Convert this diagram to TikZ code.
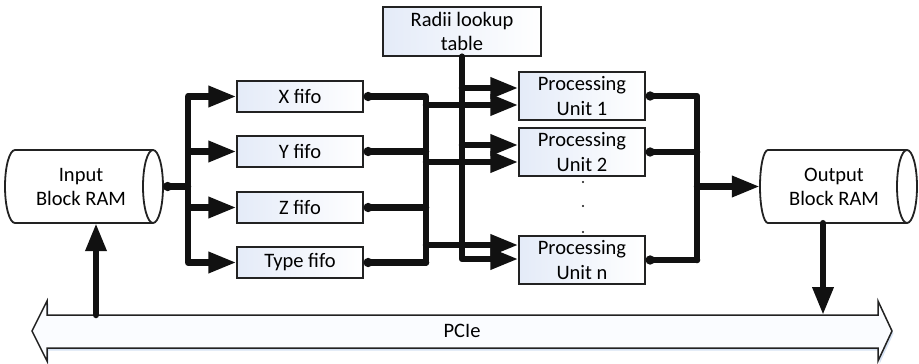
\documentclass[tikz,border=0pt]{standalone}
\usepackage{fontspec}
\setmainfont{Carlito}
\usetikzlibrary{arrows.meta,calc}
\definecolor{ink}{HTML}{111111}
\definecolor{edge}{HTML}{222222}
\definecolor{tint}{HTML}{E4EBF8}
\definecolor{busfill}{HTML}{FAFCFF}
\definecolor{busshade}{HTML}{D6E2F3}
\tikzset{
  conn/.style={draw=ink, line width=6.5pt, line join=round, line cap=round},
  tip/.style={arrows={-Triangle[length=28pt,width=20pt]}},
  dotstart/.style={arrows={Circle[length=9pt]-}},
  blockbox/.style={draw=edge, line width=1.3pt, left color=tint, right color=white,
    inner sep=0pt, align=center},
  fifobox/.style={blockbox, minimum width=126pt, minimum height=31pt},
  pubox/.style={blockbox, minimum width=126pt, minimum height=48pt},
  ramline/.style={draw=edge, line width=1.8pt},
  label/.style={align=center, inner sep=0pt}
}
\begin{document}
\begin{tikzpicture}[x=1pt, y=-1pt, font=\fontsize{20.5}{24.5}\selectfont]
\useasboundingbox (0,0) rectangle (919,364);

% ---- input block RAM (horizontal cylinder) ----
\fill[white] (153,150) -- (15,150) arc[start angle=-90, end angle=-270, x radius=10, y radius=36.5] -- (153,223) -- cycle;
\draw[ramline] (153,150) -- (15,150) arc[start angle=-90, end angle=-270, x radius=10, y radius=36.5] -- (153,223);
\filldraw[ramline, fill=white] (153,186.5) ellipse [x radius=10, y radius=36.5];
\node[minimum width=158pt, minimum height=73pt, inner sep=0pt] (inram) at (84,186.5) {};
\node[label] (inramtxt) at (81,187) {Input\\Block RAM};

% ---- output block RAM ----
\fill[white] (907,150) -- (768,150) arc[start angle=-90, end angle=-270, x radius=8, y radius=36.5] -- (907,223) -- cycle;
\draw[ramline] (907,150) -- (768,150) arc[start angle=-90, end angle=-270, x radius=8, y radius=36.5] -- (907,223);
\filldraw[ramline, fill=white] (907,186.5) ellipse [x radius=10, y radius=36.5];
\node[minimum width=157pt, minimum height=73pt, inner sep=0pt] (outram) at (838.5,186.5) {};
\node[label] (outramtxt) at (834,187) {Output\\Block RAM};

% ---- PCIe bus (double block arrow with a soft shadow) ----
\fill[busshade] (33.5,333.5) -- (48.5,303.5) -- (48.5,317.5) -- (879.5,317.5) -- (879.5,303.5)
  -- (893.5,333.5) -- (879.5,364) -- (879.5,350.5) -- (48.5,350.5) -- (48.5,364) -- cycle;
\filldraw[draw=edge, line width=1.5pt, fill=busfill, line join=miter]
  (32,331) -- (47,301) -- (47,315) -- (878,315) -- (878,301) -- (892,331)
  -- (878,361) -- (878,348) -- (47,348) -- (47,361) -- cycle;
\node[label] (pcie) at (462,331) {PCIe};

% ---- fifos ----
\node[fifobox] (xf) at (300,96.5)  {X fifo};
\node[fifobox] (yf) at (300,151.5) {Y fifo};
\node[fifobox] (zf) at (300,207.5) {Z fifo};
\node[fifobox] (tf) at (300,262.5) {Type fifo};

% ---- radii table and processing units ----
\node[blockbox, minimum width=158pt, minimum height=49pt] (radii) at (462,31.5) {Radii lookup\\table};
\node[pubox] (pu1) at (582,96)  {Processing\\Unit 1};
\node[pubox] (pu2) at (582,152) {Processing\\Unit 2};
\node[pubox] (pun) at (582,260) {Processing\\Unit n};
\foreach \yy in {182,206,232} \fill[ink] (583,\yy) circle (1.2pt);

% ---- junction columns ----
\coordinate (jin) at (188,186.5);
\coordinate (fb) at (426,0);
\coordinate (ob) at (697,0);
\coordinate (p1a) at ($(pu1.west)+(0,-8)$);
\coordinate (p1b) at ($(pu1.west)+(0,9)$);
\coordinate (p2a) at ($(pu2.west)+(0,-7)$);
\coordinate (p2b) at ($(pu2.west)+(0,10)$);
\coordinate (pna) at ($(pun.west)+(0,-15)$);
\coordinate (pnb) at ($(pun.west)+(0,-1)$);
\coordinate (intap) at (96,315);
\coordinate (outtap) at (823,315);

% input RAM to fifos
\draw[conn, dotstart] (inram.east) -- (jin);
\draw[conn, tip] (jin) |- (xf.west);
\draw[conn, tip] (jin) |- (yf.west);
\draw[conn, tip] (jin) |- (zf.west);
\draw[conn, tip] (jin) |- (tf.west);

% fifos to processing units
\draw[conn, dotstart] (xf.east) -| (fb |- tf.east);
\draw[conn, dotstart] (yf.east) -- (fb |- yf.east);
\draw[conn, dotstart] (zf.east) -- (fb |- zf.east);
\draw[conn, dotstart] (tf.east) -- (fb |- tf.east);
\draw[conn, tip] (fb |- p1b) -- (p1b);
\draw[conn, tip] (fb |- p2b) -- (p2b);
\draw[conn, tip] (fb |- pna) -- (pna);

% radii table to processing units
\draw[conn, tip] (radii.south) |- (pnb);
\draw[conn, tip] (radii.south |- p1a) -- (p1a);
\draw[conn, tip] (radii.south |- p2a) -- (p2a);

% processing units to output RAM
\draw[conn, dotstart] (pu1.east) -| (ob |- pun.east);
\draw[conn, dotstart] (pu2.east) -- (ob |- pu2.east);
\draw[conn, dotstart] (pun.east) -- (ob |- pun.east);
\draw[conn, tip] (ob |- outram.west) -- (outram.west);

% PCIe links
\draw[conn, tip] (intap) -- (intap |- inram.south);
\draw[conn, tip] (outtap |- outram.south) -- (outtap);
\end{tikzpicture}
\end{document}
